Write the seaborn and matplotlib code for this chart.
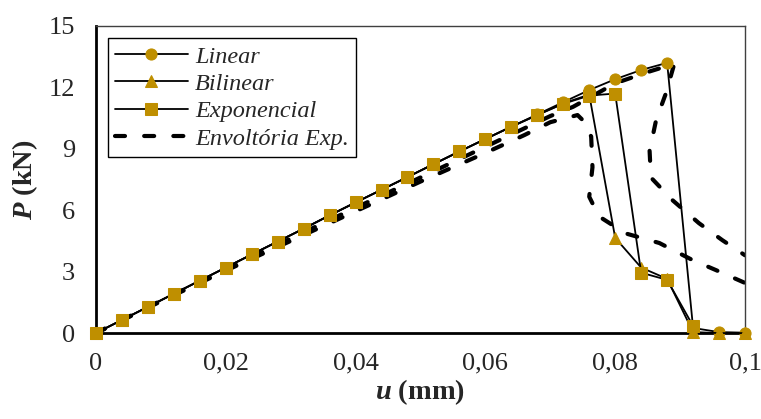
import numpy as np
import pandas as pd
import matplotlib
matplotlib.use("Agg")
import matplotlib.pyplot as plt
from matplotlib.ticker import FuncFormatter, MultipleLocator
import seaborn as sns

# displacement steps (mm)
u_lin = [0, 0.004, 0.008, 0.012, 0.016, 0.02, 0.024, 0.028, 0.032, 0.036, 0.04, 0.044, 0.048,
         0.052, 0.056, 0.06, 0.064, 0.068, 0.072, 0.076, 0.08, 0.084, 0.088, 0.092, 0.096, 0.1]
p_lin = [0, 0.64, 1.28, 1.92, 2.56, 3.2, 3.84, 4.47, 5.1, 5.75, 6.38, 7.0, 7.62,
         8.25, 8.87, 9.48, 10.08, 10.68, 11.28, 11.87, 12.4, 12.85, 13.2, 0.25, 0.05, 0.02]

u_bil = [0, 0.004, 0.008, 0.012, 0.016, 0.02, 0.024, 0.028, 0.032, 0.036, 0.04, 0.044, 0.048,
         0.052, 0.056, 0.06, 0.064, 0.068, 0.072, 0.076, 0.08, 0.084, 0.088, 0.092, 0.096, 0.1]
p_bil = [0, 0.64, 1.28, 1.92, 2.56, 3.2, 3.84, 4.47, 5.1, 5.75, 6.38, 7.0, 7.62,
         8.25, 8.87, 9.48, 10.08, 10.65, 11.22, 11.65, 4.65, 3.2, 2.65, 0.05, 0.0, 0.0]

u_exp = [0, 0.004, 0.008, 0.012, 0.016, 0.02, 0.024, 0.028, 0.032, 0.036, 0.04, 0.044, 0.048,
         0.052, 0.056, 0.06, 0.064, 0.068, 0.072, 0.076, 0.08, 0.084, 0.088, 0.092]
p_exp = [0, 0.64, 1.28, 1.92, 2.56, 3.2, 3.84, 4.47, 5.1, 5.75, 6.38, 7.0, 7.62,
         8.25, 8.87, 9.48, 10.08, 10.65, 11.2, 11.6, 11.7, 2.95, 2.6, 0.35]

# experimental envelope: upper and lower bound
u_env_a = [0, 0.01, 0.02, 0.03, 0.04, 0.05, 0.06, 0.066, 0.07, 0.0735, 0.08, 0.085, 0.0891,
           0.0878, 0.0863, 0.0853, 0.0855, 0.0888, 0.0929, 0.0965, 0.1]
p_env_a = [0, 1.58, 3.12, 4.62, 6.12, 7.6, 9.1, 10.0, 10.6, 11.05, 12.2, 12.75, 13.15,
           11.7, 10.4, 8.9, 7.6, 6.5, 5.37, 4.54, 3.8]
u_env_b = [0, 0.01, 0.02, 0.03, 0.04, 0.05, 0.06, 0.066, 0.07, 0.0742, 0.075, 0.0763,
           0.0765, 0.076, 0.0775, 0.0816, 0.0868, 0.0919, 0.0955, 0.1]
p_env_b = [0, 1.55, 3.05, 4.5, 5.95, 7.4, 8.8, 9.67, 10.3, 10.65, 10.4, 9.6,
           8.1, 6.66, 5.7, 4.87, 4.4, 3.57, 3.08, 2.45]

gold = "#BF8F00"

sns.set_style("white")
plt.rcParams["font.family"] = ["Liberation Serif", "DejaVu Serif"]
plt.rcParams["mathtext.fontset"] = "custom"
plt.rcParams["mathtext.it"] = "Liberation Serif:italic:bold"
plt.rcParams["mathtext.rm"] = "Liberation Serif:bold"

fig, ax = plt.subplots(figsize=(7.61, 4.19), dpi=100)
fig.subplots_adjust(left=0.126, right=0.979, top=0.938, bottom=0.205)

env_style = dict(color="black", linewidth=3.0, linestyle=(0, (2.4, 4.6)),
                 dash_capstyle="round", solid_capstyle="round")
sns.lineplot(x=u_env_a, y=p_env_a, sort=False, ax=ax, label="Envoltória Exp.", **env_style)
sns.lineplot(x=u_env_b, y=p_env_b, sort=False, ax=ax, label="_nolegend_", **env_style)

mk = dict(color="black", linewidth=1.3, markersize=8, markerfacecolor=gold,
          markeredgecolor=gold, sort=False, clip_on=False, zorder=3)
sns.lineplot(x=u_lin, y=p_lin, marker="o", ax=ax, label="Linear", **mk)
sns.lineplot(x=u_bil, y=p_bil, marker="^", ax=ax, label="Bilinear", **mk)
sns.lineplot(x=u_exp, y=p_exp, marker="s", ax=ax, label="Exponencial", **mk)

ax.set_xlim(0, 0.1)
ax.set_ylim(0, 15)
ax.xaxis.set_major_locator(MultipleLocator(0.02))
ax.yaxis.set_major_locator(MultipleLocator(3))
ax.xaxis.set_major_formatter(FuncFormatter(lambda v, p: f"{v:.2f}".rstrip("0").rstrip(".").replace(".", ",")))
ax.tick_params(axis="both", direction="inout", length=10, width=1, color="#595959",
               labelsize=19)
ax.tick_params(axis="x", pad=9)
ax.tick_params(axis="y", pad=10)

for side in ["left", "bottom"]:
    ax.spines[side].set_color("black")
    ax.spines[side].set_linewidth(2)
for side in ["top", "right"]:
    ax.spines[side].set_color("#404040")
    ax.spines[side].set_linewidth(1)

ax.set_xlabel(r"$u$ (mm)", fontsize=20.5, fontweight="bold", labelpad=2)
ax.set_ylabel(r"$P$ (kN)", fontsize=20.5, fontweight="bold", labelpad=6)

handles, labels = ax.get_legend_handles_labels()
order = ["Linear", "Bilinear", "Exponencial", "Envoltória Exp."]
hl = dict(zip(labels, handles))
leg = ax.legend([hl[k] for k in order], order, loc="upper left",
                bbox_to_anchor=(0.018, 0.96), prop={"style": "italic", "size": 17.5},
                frameon=True, fancybox=False, edgecolor="black", framealpha=1,
                handlelength=3.0, handletextpad=0.3, labelspacing=0.22,
                borderpad=0.3, borderaxespad=0)
leg.get_frame().set_linewidth(1)
leg.set_zorder(5)

fig.savefig("out.png", dpi=100)
